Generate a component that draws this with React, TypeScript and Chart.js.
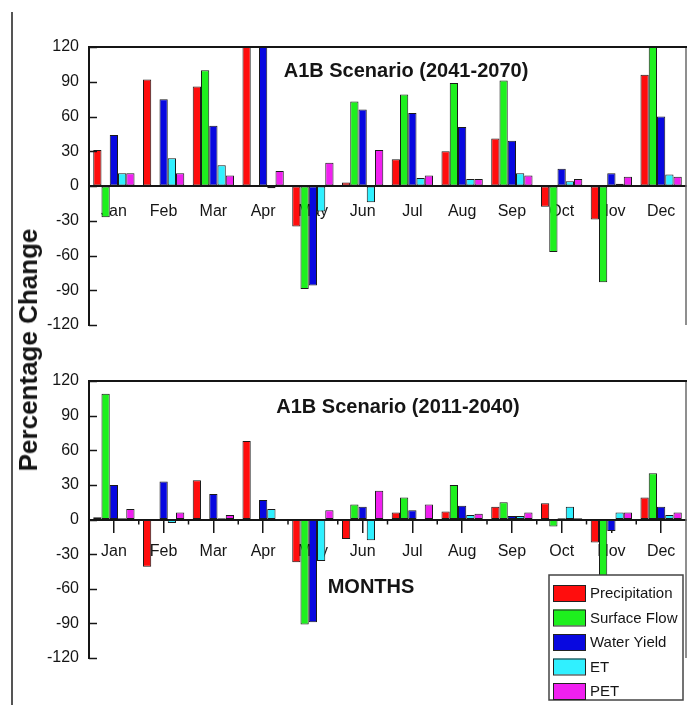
import React, { useEffect, useRef } from "react";
import { Chart, registerables } from "chart.js";
Chart.register(...registerables);

const months = ["Jan", "Feb", "Mar", "Apr", "May", "Jun", "Jul", "Aug", "Sep", "Oct", "Nov", "Dec"];
const seriesNames = ["Precipitation", "Surface Flow", "Water Yield", "ET", "PET"];
const seriesColors = ["#ff0d0d", "#1ef01e", "#0808e0", "#30f0ff", "#f020f0"];
const yMin = -120;
const yMax = 120;
const yStep = 30;

// A1B Scenario (2041-2070)
const precip2041 = [31, 92, 86, 128, -35, 3, 23, 30, 41, -18, -29, 96];
const surface2041 = [-27, 0, 100, 0, -89, 73, 79, 89, 91, -57, -83, 128];
const water2041 = [44, 75, 52, 128, -86, 66, 63, 51, 39, 15, 11, 60];
const et2041 = [11, 24, 18, -2, -22, -14, 7, 6, 11, 4, 2, 10];
const pet2041 = [11, 11, 9, 13, 20, 31, 9, 6, 9, 6, 8, 8];

// A1B Scenario (2011-2040)
const precip2011 = [2, -41, 34, 68, -37, -17, 6, 7, 11, 14, -20, 19];
const surface2011 = [109, 0, 0, 0, -91, 13, 19, 30, 15, -6, -50, 40];
const water2011 = [30, 33, 22, 17, -89, 11, 8, 12, 3, 1, -10, 11];
const et2011 = [1, -3, 1, 9, -36, -18, 0, 4, 3, 11, 6, 4];
const pet2011 = [9, 6, 4, -1, 8, 25, 13, 5, 6, 1, 6, 6];

const FONT = "'Liberation Sans', Arial, Helvetica, sans-serif";
const INK = "#151515";

const decorPlugin = {
  id: "decor",
  afterDraw(chart: any, _args: any, opts: any) {
    const ctx = chart.ctx;
    const { left, right, top, bottom } = chart.chartArea;
    const ys = chart.scales.y;
    ctx.save();
    // right frame line
    ctx.strokeStyle = "#6a6a6a";
    ctx.lineWidth = 1.5;
    ctx.beginPath();
    ctx.moveTo(right, top);
    ctx.lineTo(right, bottom);
    ctx.stroke();
    // top frame line
    ctx.strokeStyle = INK;
    ctx.lineWidth = 2;
    ctx.beginPath();
    ctx.moveTo(left, top);
    ctx.lineTo(right + 1, top);
    ctx.stroke();
    // inward y ticks
    ctx.lineWidth = 1.5;
    ys.ticks.forEach((t: any) => {
      const y = Math.round(ys.getPixelForValue(t.value)) + 0.5;
      ctx.beginPath();
      ctx.moveTo(left, y);
      ctx.lineTo(left + 8, y);
      ctx.stroke();
    });
    // minor ticks between categories on the zero line
    if (opts.minorTicks) {
      const y0 = ys.getPixelForValue(0);
      const w = (right - left) / months.length;
      ctx.lineWidth = 1.5;
      for (let i = 1; i < months.length; i++) {
        const x = left + i * w;
        ctx.beginPath();
        ctx.moveTo(x, y0);
        ctx.lineTo(x, y0 + 5);
        ctx.stroke();
      }
    }
    // title
    ctx.fillStyle = INK;
    ctx.font = `bold 20px ${FONT}`;
    ctx.textAlign = "center";
    ctx.textBaseline = "middle";
    ctx.fillText(opts.title, opts.titleX, opts.titleY);
    if (opts.note) {
      ctx.fillText(opts.note, opts.noteX, opts.noteY);
    }
    // legend
    if (opts.legend) {
      const lx = opts.legendX;
      const ly = opts.legendY;
      const lw = 134;
      const lh = 125;
      ctx.fillStyle = "#ffffff";
      ctx.fillRect(lx, ly, lw, lh);
      ctx.strokeStyle = "#444";
      ctx.lineWidth = 1.5;
      ctx.strokeRect(lx, ly, lw, lh);
      ctx.font = `15px ${FONT}`;
      ctx.textAlign = "left";
      chart.data.datasets.forEach((ds: any, i: number) => {
        const cy = ly + 18 + i * 24.5;
        ctx.fillStyle = ds.backgroundColor;
        ctx.fillRect(lx + 4, cy - 8, 32, 16);
        ctx.strokeStyle = "#222";
        ctx.lineWidth = 1;
        ctx.strokeRect(lx + 4.5, cy - 7.5, 32, 16);
        ctx.fillStyle = INK;
        ctx.fillText(ds.label, lx + 41, cy + 1);
      });
    }
    ctx.restore();
  },
};

function buildConfig(
  series: number[][],
  decor: any,
  padBottom: number,
  padTop: number,
  tickLen: number,
  tickColor: string
) {
  return {
    type: "bar",
    data: {
      labels: months,
      datasets: series.map((vals, i) => ({
        label: seriesNames[i],
        data: vals,
        backgroundColor: seriesColors[i],
        borderColor: "#1a1a1a",
        borderWidth: 1,
        borderSkipped: false,
        barPercentage: 1,
        categoryPercentage: 0.83,
      })),
    },
    options: {
      responsive: false,
      animation: false,
      layout: { padding: { left: 0, right: 1, top: padTop, bottom: padBottom } },
      plugins: {
        legend: { display: false },
        title: { display: false },
        tooltip: { enabled: false },
        decor,
      },
      scales: {
        x: {
          type: "category",
          position: { y: 0 },
          offset: true,
          grid: {
            display: true,
            drawOnChartArea: false,
            drawTicks: true,
            tickLength: tickLen,
            offset: false,
            color: tickColor,
            lineWidth: 1.5,
          },
          border: { display: true, color: INK, width: 2 },
          ticks: { font: { family: FONT, size: 16 }, color: INK, padding: 10, maxRotation: 0, autoSkip: false },
        },
        y: {
          position: "left",
          min: yMin,
          max: yMax,
          afterFit: (s: any) => {
            s.width = 89;
          },
          ticks: { stepSize: yStep, font: { family: FONT, size: 16 }, color: INK, padding: 10 },
          grid: { display: true, drawOnChartArea: false, drawTicks: false },
          border: { display: true, color: INK, width: 2 },
        },
      },
    },
    plugins: [decorPlugin],
  };
}

function BarPanel({ series, decor, width, height, top, padBottom, padTop, tickLen, tickColor }: any) {
  const ref = useRef<HTMLCanvasElement | null>(null);
  useEffect(() => {
    if (!ref.current) return;
    const chart = new Chart(ref.current, buildConfig(series, decor, padBottom, padTop, tickLen, tickColor) as any);
    return () => chart.destroy();
  }, []);
  return (
    <canvas
      ref={ref}
      width={width}
      height={height}
      style={{ position: "absolute", left: 0, top, width, height }}
    />
  );
}

export default function App() {
  return (
    <div style={{ position: "absolute", left: 0, top: 0, width: 687, height: 710, background: "#fff", overflow: "hidden" }}>
      <div style={{ position: "absolute", left: 11, top: 12, width: 2, height: 693, background: "#555" }} />
      <BarPanel
        series={[precip2041, surface2041, water2041, et2041, pet2041]}
        decor={{ title: "A1B Scenario (2041-2070)", titleX: 406, titleY: 71 }}
        width={687}
        height={345}
        top={0}
        padTop={47}
        padBottom={20}
        tickLen={6}
        tickColor="rgba(0,0,0,0)"
      />
      <BarPanel
        series={[precip2011, surface2011, water2011, et2011, pet2011]}
        decor={{
          title: "A1B Scenario (2011-2040)",
          titleX: 398,
          titleY: 67,
          note: "MONTHS",
          noteX: 371,
          noteY: 247,
          legend: true,
          legendX: 549,
          legendY: 235,
          minorTicks: true,
        }}
        width={687}
        height={370}
        top={340}
        padTop={41}
        padBottom={52}
        tickLen={12}
        tickColor={INK}
      />
      <div
        style={{
          position: "absolute",
          left: 28,
          top: 350,
          transform: "translate(-50%, -50%) rotate(-90deg)",
          whiteSpace: "nowrap",
          font: `bold 26px ${FONT}`,
          color: INK,
          lineHeight: "26px",
        }}
      >
        Percentage Change
      </div>
    </div>
  );
}
